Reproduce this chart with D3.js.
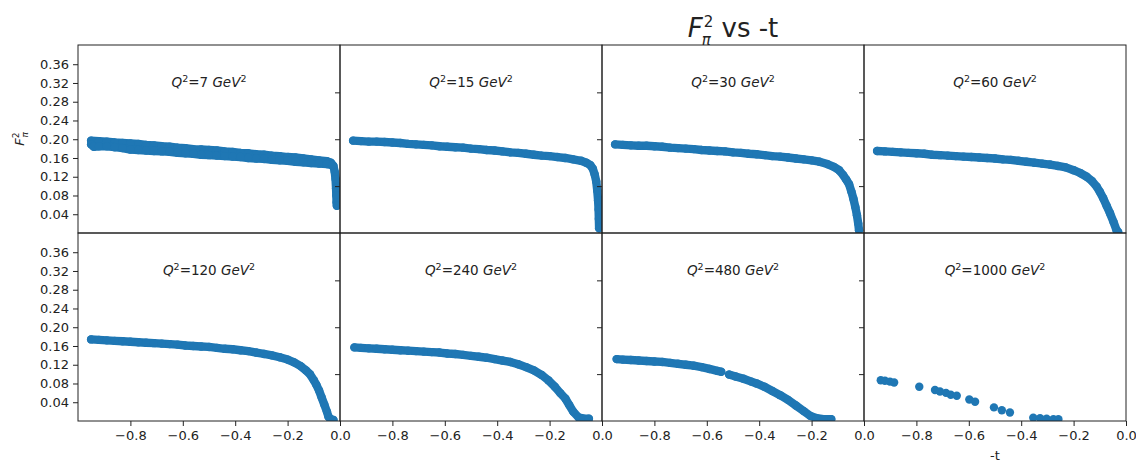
<!DOCTYPE html>
<html>
<head>
<meta charset="utf-8">
<script src="https://cdn.jsdelivr.net/npm/d3@7"></script>
<style>
  html, body { margin: 0; padding: 0; background: #fff; }
  svg text { font-family: "DejaVu Sans", sans-serif; fill: #222; }
</style>
</head>
<body>
<svg id="chart" width="1136" height="466"></svg>
<script>
// ---------------- data ----------------
const q2Values = [7, 15, 30, 60, 120, 240, 480, 1000];
const yTickValues = [0.04, 0.08, 0.12, 0.16, 0.20, 0.24, 0.28, 0.32, 0.36];
const innerYTickValues = [0.1, 0.2, 0.3];
const xTickValues = [-0.8, -0.6, -0.4, -0.2, 0.0];

// Q^2 = 7 (noisy band: upper and lower edge traces)
const q7Upper = [[-0.95,0.197],[-0.92,0.196],[-0.89,0.195],[-0.86,0.193],[-0.83,0.192],[-0.80,0.191],[-0.77,0.190],[-0.74,0.188],[-0.71,0.187],[-0.68,0.185],[-0.65,0.184],[-0.62,0.182],[-0.59,0.181],[-0.56,0.179],[-0.53,0.178],[-0.50,0.177],[-0.47,0.176],[-0.44,0.174],[-0.41,0.173],[-0.38,0.171],[-0.35,0.170],[-0.32,0.168],[-0.29,0.167],[-0.26,0.165],[-0.23,0.164],[-0.20,0.162],[-0.17,0.161],[-0.14,0.159],[-0.11,0.157],[-0.08,0.155],[-0.05,0.153],[-0.035,0.150],[-0.025,0.143],[-0.02,0.130],[-0.017,0.115],[-0.015,0.095],[-0.014,0.080],[-0.013,0.065],[-0.012,0.058]];
const q7Lower = [[-0.95,0.189],[-0.94,0.184],[-0.92,0.185],[-0.89,0.185],[-0.86,0.183],[-0.83,0.181],[-0.80,0.178],[-0.77,0.177],[-0.74,0.176],[-0.71,0.175],[-0.68,0.174],[-0.65,0.173],[-0.62,0.171],[-0.59,0.170],[-0.56,0.169],[-0.53,0.167],[-0.50,0.166],[-0.47,0.165],[-0.44,0.164],[-0.41,0.163],[-0.38,0.162],[-0.35,0.160],[-0.32,0.159],[-0.29,0.158],[-0.26,0.156],[-0.23,0.155],[-0.20,0.154],[-0.17,0.152],[-0.14,0.151],[-0.11,0.149],[-0.08,0.148],[-0.05,0.147],[-0.03,0.145]];
const q15 = [[-0.95,0.197],[-0.92,0.196],[-0.89,0.195],[-0.86,0.195],[-0.83,0.194],[-0.80,0.193],[-0.77,0.192],[-0.74,0.190],[-0.71,0.189],[-0.68,0.188],[-0.65,0.187],[-0.62,0.185],[-0.59,0.184],[-0.56,0.183],[-0.53,0.182],[-0.50,0.180],[-0.47,0.179],[-0.44,0.177],[-0.41,0.176],[-0.38,0.174],[-0.35,0.172],[-0.32,0.171],[-0.29,0.169],[-0.26,0.167],[-0.23,0.165],[-0.20,0.164],[-0.17,0.162],[-0.14,0.160],[-0.11,0.157],[-0.08,0.154],[-0.06,0.150],[-0.045,0.145],[-0.035,0.137],[-0.028,0.125],[-0.022,0.110],[-0.018,0.090],[-0.015,0.070],[-0.013,0.050],[-0.012,0.030],[-0.011,0.010]];
const q30 = [[-0.95,0.189],[-0.92,0.188],[-0.89,0.187],[-0.86,0.186],[-0.83,0.186],[-0.80,0.185],[-0.77,0.184],[-0.74,0.182],[-0.71,0.181],[-0.68,0.180],[-0.65,0.179],[-0.62,0.177],[-0.59,0.176],[-0.56,0.175],[-0.53,0.174],[-0.50,0.172],[-0.47,0.171],[-0.44,0.169],[-0.41,0.168],[-0.38,0.166],[-0.35,0.164],[-0.32,0.163],[-0.29,0.161],[-0.26,0.159],[-0.23,0.157],[-0.20,0.155],[-0.17,0.152],[-0.14,0.147],[-0.115,0.141],[-0.095,0.134],[-0.08,0.124],[-0.068,0.114],[-0.057,0.104],[-0.048,0.088],[-0.04,0.072],[-0.033,0.055],[-0.027,0.038],[-0.022,0.020],[-0.019,0.006]];
const q60 = [[-0.95,0.175],[-0.92,0.174],[-0.89,0.173],[-0.86,0.172],[-0.83,0.171],[-0.80,0.170],[-0.77,0.169],[-0.74,0.167],[-0.71,0.166],[-0.68,0.165],[-0.65,0.164],[-0.62,0.163],[-0.59,0.162],[-0.56,0.161],[-0.53,0.160],[-0.50,0.159],[-0.47,0.157],[-0.44,0.156],[-0.41,0.154],[-0.38,0.152],[-0.35,0.150],[-0.32,0.148],[-0.29,0.146],[-0.26,0.143],[-0.23,0.140],[-0.20,0.134],[-0.175,0.128],[-0.15,0.120],[-0.13,0.111],[-0.112,0.099],[-0.10,0.088],[-0.087,0.074],[-0.074,0.058],[-0.061,0.042],[-0.048,0.024],[-0.036,0.006],[-0.03,0.002]];
const q120 = [[-0.95,0.174],[-0.92,0.173],[-0.89,0.172],[-0.86,0.171],[-0.83,0.170],[-0.80,0.169],[-0.77,0.168],[-0.74,0.167],[-0.71,0.166],[-0.68,0.165],[-0.65,0.164],[-0.62,0.163],[-0.59,0.161],[-0.56,0.160],[-0.53,0.159],[-0.50,0.158],[-0.47,0.156],[-0.44,0.154],[-0.41,0.153],[-0.38,0.151],[-0.35,0.149],[-0.32,0.146],[-0.29,0.143],[-0.26,0.140],[-0.23,0.136],[-0.20,0.131],[-0.175,0.125],[-0.15,0.117],[-0.13,0.108],[-0.115,0.100],[-0.10,0.087],[-0.09,0.077],[-0.08,0.065],[-0.07,0.050],[-0.06,0.035],[-0.05,0.020],[-0.044,0.009],[-0.035,0.004],[-0.025,0.002]];
const q240 = [[-0.945,0.157],[-0.92,0.156],[-0.89,0.155],[-0.86,0.154],[-0.83,0.153],[-0.80,0.152],[-0.77,0.151],[-0.74,0.150],[-0.71,0.149],[-0.68,0.148],[-0.65,0.147],[-0.62,0.146],[-0.59,0.144],[-0.56,0.143],[-0.53,0.141],[-0.50,0.139],[-0.47,0.137],[-0.44,0.135],[-0.41,0.132],[-0.38,0.129],[-0.35,0.126],[-0.32,0.121],[-0.29,0.115],[-0.26,0.108],[-0.23,0.098],[-0.205,0.087],[-0.18,0.073],[-0.16,0.060],[-0.14,0.048],[-0.125,0.034],[-0.11,0.020],[-0.09,0.008],[-0.07,0.005],[-0.05,0.005]];
const q480a = [[-0.944,0.132],[-0.92,0.131],[-0.89,0.130],[-0.86,0.129],[-0.83,0.128],[-0.80,0.127],[-0.77,0.126],[-0.74,0.124],[-0.71,0.122],[-0.68,0.120],[-0.65,0.118],[-0.62,0.115],[-0.59,0.111],[-0.56,0.107],[-0.545,0.105]];
const q480b = [[-0.515,0.099],[-0.49,0.095],[-0.46,0.090],[-0.43,0.084],[-0.41,0.080],[-0.38,0.073],[-0.35,0.064],[-0.32,0.055],[-0.29,0.045],[-0.26,0.033],[-0.23,0.021],[-0.205,0.011],[-0.18,0.006],[-0.155,0.004],[-0.125,0.004]];
const q1000 = [[-0.936,0.087],[-0.920,0.086],[-0.901,0.084],[-0.885,0.082],[-0.789,0.073],[-0.729,0.066],[-0.710,0.063],[-0.687,0.060],[-0.669,0.056],[-0.646,0.054],[-0.598,0.046],[-0.576,0.041],[-0.504,0.029],[-0.474,0.023],[-0.443,0.018],[-0.354,0.007],[-0.328,0.006],[-0.303,0.005],[-0.277,0.004],[-0.258,0.004]];

const panelSeries = [
  {q2: q2Values[0], dense: true,  series: [q7Upper, q7Lower]},
  {q2: q2Values[1], dense: true,  series: [q15]},
  {q2: q2Values[2], dense: true,  series: [q30]},
  {q2: q2Values[3], dense: true,  series: [q60]},
  {q2: q2Values[4], dense: true,  series: [q120]},
  {q2: q2Values[5], dense: true,  series: [q240]},
  {q2: q2Values[6], dense: true,  series: [q480a, q480b]},
  {q2: q2Values[7], dense: false, series: [q1000]}
];

// ---------------- layout ----------------
const left0 = 78, top0 = 45, pw = 262, ph = 188;
const color = "#1f77b4";
const r = 4.2;

const svg = d3.select("#chart");
const x = d3.scaleLinear().domain([-1, 0]).range([0, pw]);
const y = d3.scaleLinear().domain([0, 0.401]).range([ph, 0]);
const line = d3.line().x(d => x(d[0])).y(d => y(d[1]));

const defs = svg.append("defs");
defs.append("clipPath").attr("id", "clipPanel")
  .append("rect").attr("x", 0).attr("y", 0).attr("width", pw).attr("height", ph);

panelSeries.forEach((p, i) => {
  const col = i % 4, row = Math.floor(i / 4);
  const g = svg.append("g").attr("transform", `translate(${left0 + col * pw},${top0 + row * ph})`);

  // data
  const dg = g.append("g").attr("clip-path", "url(#clipPanel)");
  p.series.forEach(s => {
    if (p.dense) {
      dg.append("path").datum(s).attr("d", line)
        .attr("fill", "none").attr("stroke", color)
        .attr("stroke-width", 2 * r).attr("stroke-linecap", "round").attr("stroke-linejoin", "round");
    }
    dg.selectAll(null).data(s).enter().append("circle")
      .attr("cx", d => x(d[0])).attr("cy", d => y(d[1])).attr("r", r).attr("fill", color);
  });

  // y axis
  if (col === 0) {
    const ya = g.append("g").call(d3.axisLeft(y).tickValues(yTickValues).tickFormat(d3.format(".2f")).tickSizeInner(5).tickSizeOuter(0).tickPadding(4));
    ya.select(".domain").remove();
    ya.selectAll("text").style("font-size", "13px").style("font-family", "DejaVu Sans").attr("fill", "#222");
    ya.selectAll("line").attr("stroke", "#222");
  } else {
    const ya = g.append("g").call(d3.axisLeft(y).tickValues(innerYTickValues).tickFormat("").tickSizeInner(5).tickSizeOuter(0));
    ya.select(".domain").remove();
    ya.selectAll("line").attr("stroke", "#222");
  }

  // x axis (bottom row only)
  if (row === 1) {
    const xa = g.append("g").attr("transform", `translate(0,${ph})`)
      .call(d3.axisBottom(x).tickValues(xTickValues).tickFormat(d3.format(".1f")).tickSizeInner(5).tickSizeOuter(0).tickPadding(5));
    xa.select(".domain").remove();
    xa.selectAll("text").style("font-size", "13px").style("font-family", "DejaVu Sans").attr("fill", "#222");
    xa.selectAll("line").attr("stroke", "#222");
  }

  // frame
  g.append("rect").attr("x", 0).attr("y", 0).attr("width", pw).attr("height", ph)
    .attr("fill", "none").attr("stroke", "#222").attr("stroke-width", 1);

  // panel label
  const t = g.append("text").attr("x", x(-0.5)).attr("y", y(0.311))
    .attr("text-anchor", "middle").style("font-size", "13.5px");
  t.append("tspan").style("font-style", "italic").text("Q");
  t.append("tspan").attr("dy", -5).style("font-size", "9.5px").text("2");
  t.append("tspan").attr("dy", 5).text("=" + p.q2 + " ");
  t.append("tspan").style("font-style", "italic").text("GeV");
  t.append("tspan").attr("dy", -5).style("font-size", "9.5px").text("2");
});

// title (over third panel of top row): F, stacked ^2 / _pi, then " vs -t"
const titleX = left0 + 2 * pw + pw / 2;
const tg = svg.append("g");
const tF = tg.append("text").attr("x", 0).attr("y", 37).style("font-size", "26px").style("font-style", "italic").text("F");
const wF = tF.node().getComputedTextLength();
const tSup = tg.append("text").attr("x", wF + 1).attr("y", 27).style("font-size", "15px").text("2");
const tSub = tg.append("text").attr("x", wF - 1).attr("y", 45).style("font-size", "15px").style("font-style", "italic").text("π");
const wScript = Math.max(wF + 1 + tSup.node().getComputedTextLength(), wF - 1 + tSub.node().getComputedTextLength());
const tRest = tg.append("text").attr("x", wScript).attr("y", 37).style("font-size", "26px").text("\u00a0vs -t");
const totalW = wScript + tRest.node().getComputedTextLength();
tg.attr("transform", `translate(${titleX - totalW / 2},0)`);

// y label
const yl = svg.append("text").attr("transform", `translate(24,${top0 + ph / 2}) rotate(-90)`)
  .attr("text-anchor", "middle").style("font-size", "13px");
yl.append("tspan").style("font-style", "italic").text("F");
yl.append("tspan").attr("dy", -5).style("font-size", "9px").text("2");
yl.append("tspan").attr("dx", -5).attr("dy", 9).style("font-size", "9px").style("font-style", "italic").text("π");

// x label
svg.append("text").attr("x", left0 + 3 * pw + pw / 2).attr("y", 460)
  .attr("text-anchor", "middle").style("font-size", "13px").text("-t");
</script>
</body>
</html>
